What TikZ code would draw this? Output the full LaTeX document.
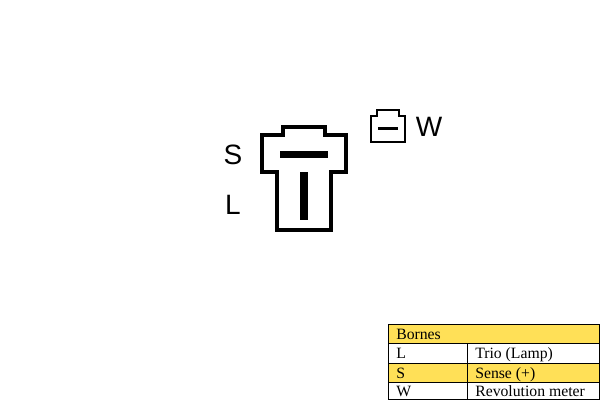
\documentclass[tikz,border=0pt]{standalone}
\usepackage{fontspec}
\setmainfont{Liberation Serif}
\newfontfamily\pinfont{Liberation Sans}
\definecolor{rowyellow}{HTML}{FFE057}
\tikzstyle{pinlabel}=[inner sep=0pt, font=\pinfont\fontsize{21}{21}\selectfont]
\tikzstyle{celltext}=[anchor=base west, inner sep=0pt, font=\fontsize{11.8}{12}\selectfont]
\tikzstyle{housing}=[draw, line width=3.2pt, line join=miter]
\tikzstyle{blade}=[draw, line width=5.3pt]
\tikzstyle{smallhousing}=[draw, line width=1.4pt, line join=miter]
\tikzstyle{gridline}=[draw, line width=0.75pt]
\begin{document}
\begin{tikzpicture}[x=0.75pt, y=-0.75pt]
        \useasboundingbox (0, 0) rectangle (600, 400);
        % main connector
        \draw[housing] (262, 135) -- (283, 135) -- (283, 127) -- (325, 127) -- (325, 135) -- (346, 135)
            -- (346, 172) -- (331, 172) -- (331, 230) -- (277, 230) -- (277, 172) -- (262, 172) -- cycle;
        \coordinate (Sleft) at (280, 154.5);
        \coordinate (Sright) at (328, 154.5);
        \coordinate (Ltop) at (304, 172);
        \coordinate (Lbottom) at (304, 220);
        \draw[blade] (Sleft) -- (Sright);
        \draw[blade] (Ltop) -- (Lbottom);
        \node[pinlabel] (S) at (233, 155) {S};
        \node[pinlabel] (L) at (233, 205) {L};
        % small connector
        \draw[smallhousing] (371, 116) -- (377, 116) -- (377, 110) -- (399, 110) -- (399, 116) -- (405, 116)
            -- (405, 142) -- (371, 142) -- cycle;
        \coordinate (Wleft) at (378, 128.5);
        \coordinate (Wright) at (398, 128.5);
        \draw[draw, line width=2.2pt] (Wleft) -- (Wright);
        \node[pinlabel] (W) at (429, 127) {W};
        % table
        \fill[rowyellow] (388, 324) rectangle (600, 343);
        \fill[rowyellow] (388, 363) rectangle (600, 382);
        \draw[gridline] (388.5, 324) rectangle (599.5, 399.5);
        \draw[gridline] (388, 343.5) -- (600, 343.5);
        \draw[gridline] (388, 363) -- (600, 363);
        \draw[gridline] (388, 382) -- (600, 382);
        \draw[gridline] (467.5, 343.5) -- (467.5, 399.5);
        \node[celltext] (head) at (396, 339) {Bornes};
        \node[celltext] (rowL) at (396, 358) {L};
        \node[celltext] (descL) at (475, 358) {Trio (Lamp)};
        \node[celltext] (rowS) at (396, 378) {S};
        \node[celltext] (descS) at (475, 378) {Sense (+)};
        \node[celltext] (rowW) at (396, 396) {W};
        \node[celltext] (descW) at (475, 396) {Revolution meter};
    \end{tikzpicture}
\end{document}
